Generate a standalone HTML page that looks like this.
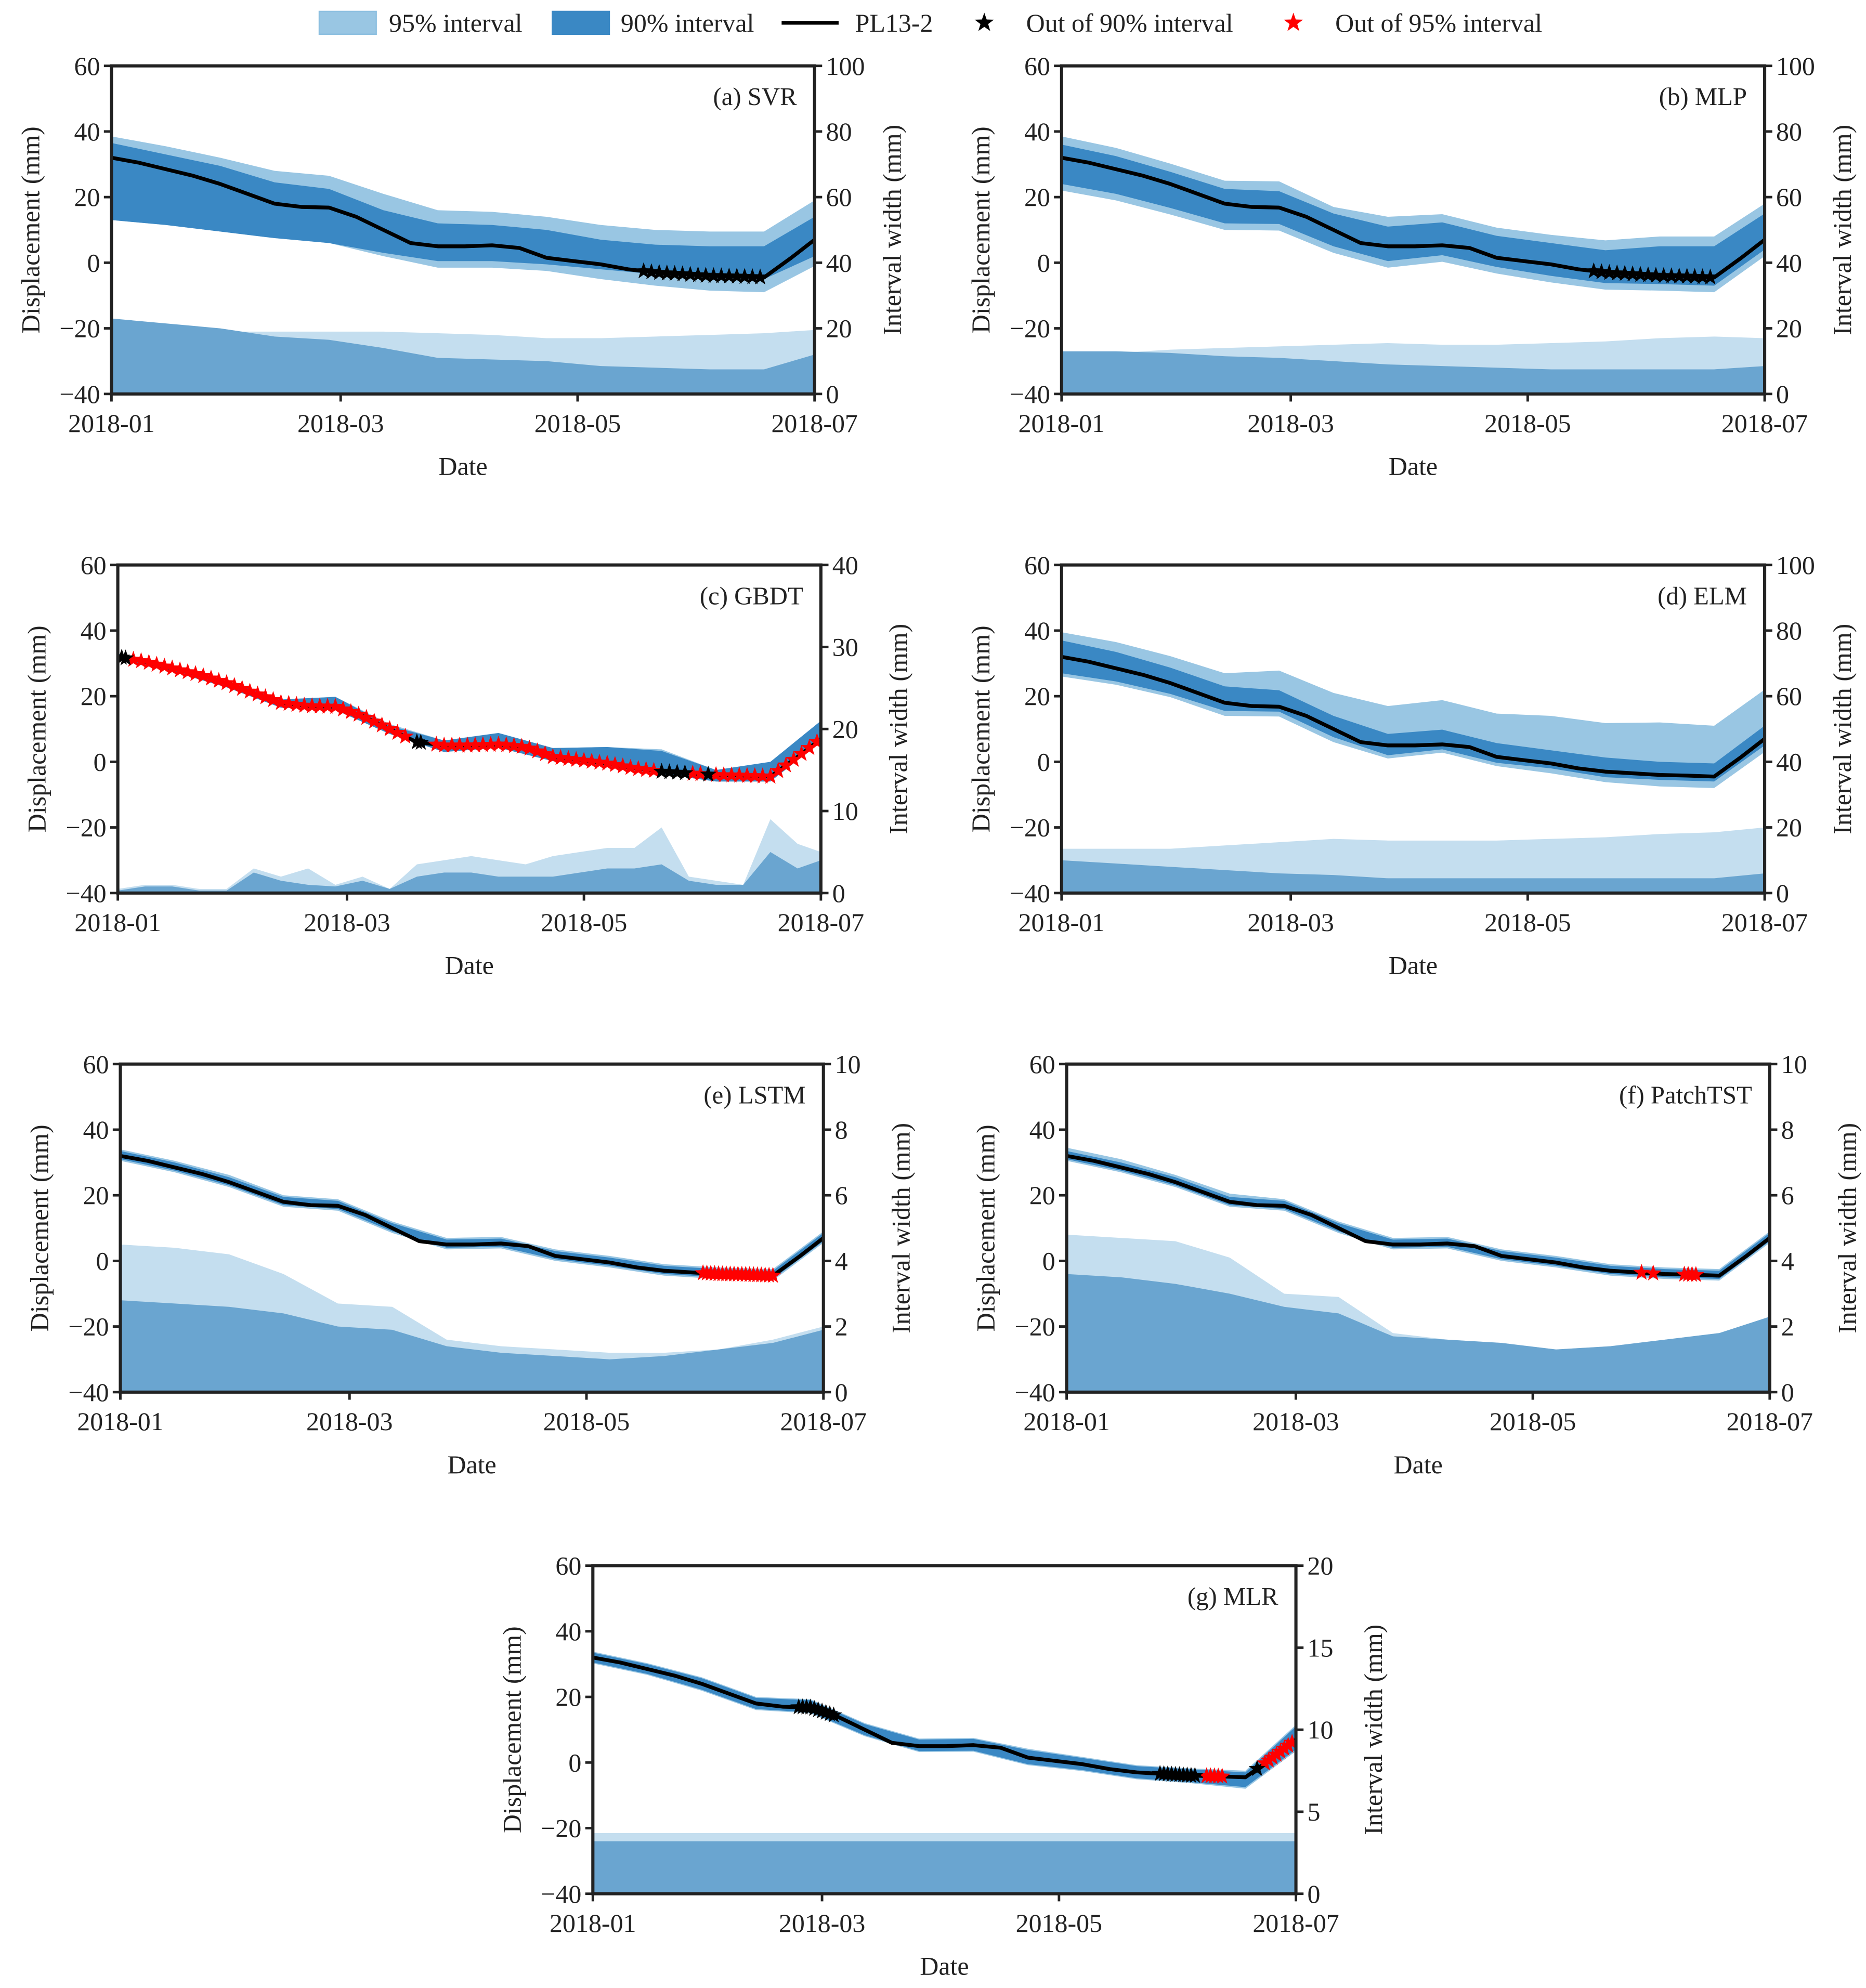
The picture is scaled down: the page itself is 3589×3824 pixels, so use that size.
<!DOCTYPE html>
<html><head><meta charset="utf-8">
<style>
html,body{margin:0;padding:0;background:#fff;}
svg{display:block;}
text{font-family:"Liberation Serif","DejaVu Serif",serif;fill:#222;}
</style></head>
<body>
<svg id="fig" xmlns="http://www.w3.org/2000/svg" width="3589" height="3824" viewBox="0 0 1473 1569.4" preserveAspectRatio="none">
  <g>
    <rect x="252" y="9" width="45" height="18" fill="#99c6e3" stroke="#8cbfe0"/>
    <text x="307" y="25" font-size="20.5">95% interval</text>
    <rect x="436" y="9" width="45" height="18" fill="#3a88c4" stroke="#3a88c4"/>
    <text x="490" y="25" font-size="20.5">90% interval</text>
    <line x1="617" y1="18" x2="662" y2="18" stroke="#000" stroke-width="3"/>
    <text x="675" y="25" font-size="20.5">PL13-2</text>
    <polygon id="lgStarB" fill="#000"/>
    <text x="810" y="25" font-size="20.5">Out of 90% interval</text>
    <polygon id="lgStarR" fill="#f00"/>
    <text x="1054" y="25" font-size="20.5">Out of 95% interval</text>
  </g>
</svg>
<script>
// ---- data ----
const seriesDays = [0,7,14,21,28,35,42,49,56,63,70,77,84,91,98,105,112,119,126,133,140,147,154,161,168,175,181];
const displacement = [32,30.5,28.5,26.5,24,21,18,17,16.8,14,10,6,5,5,5.3,4.5,1.5,0.5,-0.5,-2,-3,-3.5,-4,-4.2,-4.5,1.5,7];
const bandDays = [0,14,28,42,56,70,84,98,112,126,140,154,168,181];
const xTickLabels = ['2018-01','2018-03','2018-05','2018-07'];
const xTickDays = [0,59,120,181];
const yTicksLeft = [-40,-20,0,20,40,60];

const aU95=[38.5,35.5,32,28,26.5,21,16,15.5,14,11.5,10,9.5,9.5,19];
const aU90=[36.5,33,29.5,24.5,22.5,16,12,11.5,10,7,5.5,5,5,14];
const aL90=[13,11.5,9.5,7.5,6,3,0.5,0.5,-0.5,-2,-3.5,-4.5,-5,2];
const aL95=[13,11.5,9.5,7.5,6,2,-1.5,-1.5,-2.5,-5,-7,-8.5,-9,-1];
const aW95=[17,18.5,19,19,19,19,18.5,18,17,17,17.5,18,18.5,19.5];
const aW90=[23,21.5,20,17.5,16.5,14,11,10.5,10,8.5,8,7.5,7.5,12];
const aBlack=[137,139,141,143,145,147,149,151,153,155,157,159,161,163,165,167];
const aRed=[];

const bU95=[38.5,35,30.2,25,24.8,17,14,14.8,10.7,8.5,6.8,8,8,18];
const bU90=[36,32.5,27.7,22.5,21.8,15,11,12.3,8.2,6,3.8,5,5,15];
const bL90=[24,21,16.7,12,11.8,5,0.5,2.3,-1.3,-4,-6.2,-6.5,-7,4];
const bL95=[22,19,14.7,10,9.8,3,-1.5,0.3,-3.3,-6,-8.2,-8.5,-9,2];
const bW95=[12,12.5,13.5,14,14.5,15,15.5,15,15,15.5,16,17,17.5,17];
const bW90=[13,13,12.5,11.5,11,10,9,8.5,8,7.5,7.5,7.5,7.5,8.5];
const bBlack=[137,139,141,143,145,147,149,151,153,155,157,159,161,163,165,167];
const bRed=[];

const cU95=[33,29,24.7,19,19.8,11.5,6.5,8.3,4.2,4.5,3.8,-2.5,-1.5,12];
const cU90=[33,29,24.7,19,19.8,11,6.5,8.8,4.2,4.5,3.3,-2.5,0,12.5];
const cL90=[31,27.5,22.7,16.5,15.8,8.5,3,4.3,0.2,-1.5,-3.7,-6,-6,6];
const cL95=[31,27.5,22.7,16.5,15.8,8.5,3,4.3,0.2,-1.5,-3.7,-6,-6,6];
const cW95=[0.5,1,1,0.5,0.5,3,2,3,1,2,0.5,3.5,4,4.5,4,3.5,4.5,5,5.5,5.5,8,2,1.5,1,9,6,5];
const cW90=[0.3,0.8,0.8,0.3,0.3,2.5,1.5,1,0.8,1.5,0.5,2,2.5,2.5,2,2,2,2.5,3,3,3.5,1.5,1,1,5,3,4];
const cBlack=[1,2,77,78,140,142,144,146,152];
const cRed=[4,6,8,10,12,14,16,18,20,22,24,26,28,30,32,34,36,38,40,42,44,46,48,50,52,54,56,58,60,62,64,66,68,70,72,74,82,84,86,88,90,92,94,96,98,100,102,104,106,108,110,112,114,116,118,120,122,124,126,128,130,132,134,136,138,148,150,154,156,158,160,162,164,166,168,170,172,174,176,178,180];

const dU95=[39.5,36.5,32.2,27,27.8,21,17,18.8,14.7,14,11.8,12,11,22];
const dU90=[37,33.5,28.7,23,21.8,14,8.5,9.8,5.7,3.5,1.3,0,-0.5,11];
const dL90=[27,24.5,20.7,15.5,15.3,7.5,2,3.8,-0.3,-2,-4.7,-5.5,-6,5];
const dL95=[26,23.5,19.7,14,13.8,6,1,2.8,-1.3,-3.5,-6.2,-7.5,-8,3];
const dW95=[13.5,13.5,13.5,14.5,15.5,16.5,16,16,16,16.5,17,18,18.5,20];
const dW90=[10,9,8,7,6,5.5,4.5,4.5,4.5,4.5,4.5,4.5,4.5,6];

const eU95=[34,30.5,26.2,20,18.8,12,7,7.3,3.5,1.5,-1,-2,-2.5,9];
const eU90=[33.5,30,25.5,19.5,18.3,11.5,6.5,6.8,3,1,-1.5,-2.5,-3,8.5];
const eL90=[31,27.5,23,17,15.8,9,4,4.3,0.5,-1.5,-4,-5,-5.5,6];
const eL95=[30.5,27,22.5,16.5,15.3,8.5,3.5,3.8,0,-2,-4.5,-5.5,-6,5.5];
const eW95=[4.5,4.4,4.2,3.6,2.7,2.6,1.6,1.4,1.3,1.2,1.2,1.3,1.6,2];
const eW90=[2.8,2.7,2.6,2.4,2.0,1.9,1.4,1.2,1.1,1.0,1.1,1.3,1.5,1.9];
const eRed=[150,151,152,153,154,155,156,157,158,159,160,161,162,163,164,165,166,167,168];

const fU95=[34.5,31,26.2,20.5,18.8,12,7,7.3,3.5,1.5,-1,-2,-2.5,9];
const fU90=[33.5,30,25.5,19.5,18.3,11.5,6.5,6.8,3,1,-1.5,-2.5,-3,8.5];
const fL90=[31,27.5,23,17,15.8,9,4,4.3,0.5,-1.5,-4,-5,-5.5,6];
const fL95=[30.5,27,22.5,16.5,15.3,8.5,3.5,3.8,0,-2,-4.5,-5.5,-6,5.5];
const fW95=[4.8,4.7,4.6,4.1,3.0,2.9,1.8,1.6,1.5,1.3,1.4,1.6,1.8,2.2];
const fW90=[3.6,3.5,3.3,3.0,2.6,2.4,1.7,1.6,1.5,1.3,1.4,1.6,1.8,2.3];
const fRed=[148,151,159,160,161,162];

const gU95=[33.8,30.3,26,20,19.3,12,7.3,7.5,4.2,1.7,-0.8,-1.8,-2.5,11.5];
const gU90=[33.5,30,25.7,19.7,19,11.7,7,7.2,3.8,1.4,-1.1,-2.1,-3,11];
const gL90=[30.5,27,22.2,16.3,15.3,8.3,3.5,3.6,-0.5,-2.3,-4.8,-6,-7.5,4];
const gL95=[30.2,26.7,21.9,16,15,8,3.2,3.3,-0.8,-2.6,-5.1,-6.3,-8,3.5];
const gW95=[3.7,3.7,3.7,3.7,3.7,3.7,3.7,3.7,3.7,3.7,3.7,3.7,3.7,3.7];
const gW90=[3.2,3.2,3.2,3.2,3.2,3.2,3.2,3.2,3.2,3.2,3.2,3.2,3.2,3.2];
const gBlack=[53,54,55,56,57,58,59,60,61,62,146,147,148,149,150,151,152,153,154,155,171];
const gRed=[158,159,160,161,162,173,174,175,176,177,178,179,180];

// ---- layout (positions only) ----
const panels=[
 {id:'a',title:'(a) SVR',L:88,T:52,rmax:100,rt:[0,20,40,60,80,100],u95:aU95,u90:aU90,l90:aL90,l95:aL95,w95:aW95,w90:aW90,wd:bandDays,blk:aBlack,red:aRed},
 {id:'b',title:'(b) MLP',L:838,T:52,rmax:100,rt:[0,20,40,60,80,100],u95:bU95,u90:bU90,l90:bL90,l95:bL95,w95:bW95,w90:bW90,wd:bandDays,blk:bBlack,red:bRed},
 {id:'c',title:'(c) GBDT',L:93,T:446,rmax:40,rt:[0,10,20,30,40],u95:cU95,u90:cU90,l90:cL90,l95:cL95,w95:cW95,w90:cW90,wd:seriesDays,blk:cBlack,red:cRed},
 {id:'d',title:'(d) ELM',L:838,T:446,rmax:100,rt:[0,20,40,60,80,100],u95:dU95,u90:dU90,l90:dL90,l95:dL95,w95:dW95,w90:dW90,wd:bandDays,blk:[],red:[]},
 {id:'e',title:'(e) LSTM',L:95,T:840,rmax:10,rt:[0,2,4,6,8,10],u95:eU95,u90:eU90,l90:eL90,l95:eL95,w95:eW95,w90:eW90,wd:bandDays,blk:[],red:eRed},
 {id:'f',title:'(f) PatchTST',L:842,T:840,rmax:10,rt:[0,2,4,6,8,10],u95:fU95,u90:fU90,l90:fL90,l95:fL95,w95:fW95,w90:fW90,wd:bandDays,blk:[],red:fRed},
 {id:'g',title:'(g) MLR',L:468,T:1236,rmax:20,rt:[0,5,10,15,20],u95:gU95,u90:gU90,l90:gL90,l95:gL95,w95:gW95,w90:gW90,wd:bandDays,blk:gBlack,red:gRed}
];
const PW=555, PH=259, NS='http://www.w3.org/2000/svg', FS=20.5;
const svg=document.getElementById('fig');

function mk(tag,attrs,parent){const e=document.createElementNS(NS,tag);for(const k in attrs)e.setAttribute(k,attrs[k]);parent.appendChild(e);return e;}
function starPts(cx,cy,r){const p=[];for(let i=0;i<10;i++){const a=-Math.PI/2+i*Math.PI/5;const rr=i%2?r*0.4:r;p.push((cx+rr*Math.cos(a)).toFixed(2)+','+(cy+rr*Math.sin(a)).toFixed(2));}return p.join(' ');}
function interp(d){for(let i=0;i<seriesDays.length-1;i++){if(d<=seriesDays[i+1]){const t=(d-seriesDays[i])/(seriesDays[i+1]-seriesDays[i]);return displacement[i]+t*(displacement[i+1]-displacement[i]);}}return displacement[displacement.length-1];}

document.getElementById('lgStarB').setAttribute('points',starPts(777,18,8));
document.getElementById('lgStarR').setAttribute('points',starPts(1021,18,8));

panels.forEach(p=>{
  const L=p.L,T=p.T,R=L+PW,B=T+PH;
  const x=d=>L+d/181*PW;
  const y=v=>T+(60-v)/100*PH;
  const yr=v=>T+(p.rmax-v)/p.rmax*PH;
  const g=mk('g',{},svg);
  
  
  const cp=mk('clipPath',{id:'clip'+p.id},g);
  mk('rect',{x:L,y:T,width:PW,height:PH},cp);
  const plot=mk('g',{'clip-path':'url(#clip'+p.id+')'},g);
  const area=(arr,fill,name)=>{
    let pts=p.wd.map((d,i)=>x(d)+','+yr(arr[i]));
    pts.push(x(181)+','+B);pts.push(x(0)+','+B);
    const e=mk('polygon',{points:pts.join(' '),fill:fill},plot);
    
    
  };
  area(p.w95,'#c4deef','width-area-95');
  area(p.w90,'#6aa5d0','width-area-90');
  const band=(up,lo,fill,name)=>{
    let pts=bandDays.map((d,i)=>x(d)+','+y(up[i]));
    for(let i=bandDays.length-1;i>=0;i--)pts.push(x(bandDays[i])+','+y(lo[i]));
    const e=mk('polygon',{points:pts.join(' '),fill:fill},plot);
    
    
  };
  band(p.u95,p.l95,'#99c6e3','band-95');
  band(p.u90,p.l90,'#3a88c4','band-90');
  const ln=mk('polyline',{points:seriesDays.map((d,i)=>x(d)+','+y(displacement[i])).join(' '),fill:'none',stroke:'#000','stroke-width':3,'stroke-linejoin':'round'},plot);
  
  
  p.red.forEach(d=>{const s=mk('polygon',{points:starPts(x(d),y(interp(d)),7),fill:'#f00'},plot);
    
    });
  p.blk.forEach(d=>{const s=mk('polygon',{points:starPts(x(d),y(interp(d)),7),fill:'#000'},plot);
    
    });
  const fr=mk('rect',{x:L,y:T,width:PW,height:PH,fill:'none',stroke:'#222','stroke-width':2.5},g);
  
  
  yTicksLeft.forEach(v=>{
    mk('line',{x1:L-6,x2:L,y1:y(v),y2:y(v),stroke:'#222','stroke-width':2},g);
    const t=mk('text',{x:L-9,y:y(v)+7,'font-size':FS,'text-anchor':'end'},g);
    t.textContent=(v<0?'\u2212'+(-v):v);
    
    
  });
  p.rt.forEach(v=>{
    mk('line',{x1:R,x2:R+6,y1:yr(v),y2:yr(v),stroke:'#222','stroke-width':2},g);
    const t=mk('text',{x:R+9,y:yr(v)+7,'font-size':FS},g);
    t.textContent=v;
    
    
  });
  xTickDays.forEach((d,i)=>{
    mk('line',{x1:x(d),x2:x(d),y1:B,y2:B+6,stroke:'#222','stroke-width':2},g);
    const t=mk('text',{x:x(d),y:B+30,'font-size':FS,'text-anchor':'middle'},g);
    t.textContent=xTickLabels[i];
    
    
  });
  const xt=mk('text',{x:L+PW/2,y:B+64,'font-size':FS,'text-anchor':'middle'},g);
  xt.textContent='Date';
  
  
  const yt=mk('text',{x:0,y:0,'font-size':FS,'text-anchor':'middle',transform:'translate('+(L-57)+','+(T+PH/2)+') rotate(-90)'},g);
  yt.textContent='Displacement (mm)';
  
  
  const y2=mk('text',{x:0,y:0,'font-size':FS,'text-anchor':'middle',transform:'translate('+(R+68)+','+(T+PH/2)+') rotate(-90)'},g);
  y2.textContent='Interval width (mm)';
  
  
  const ti=mk('text',{x:R-14,y:T+31,'font-size':20,'text-anchor':'end'},g);
  ti.textContent=p.title;
  
  
});
</script>
</body></html>
